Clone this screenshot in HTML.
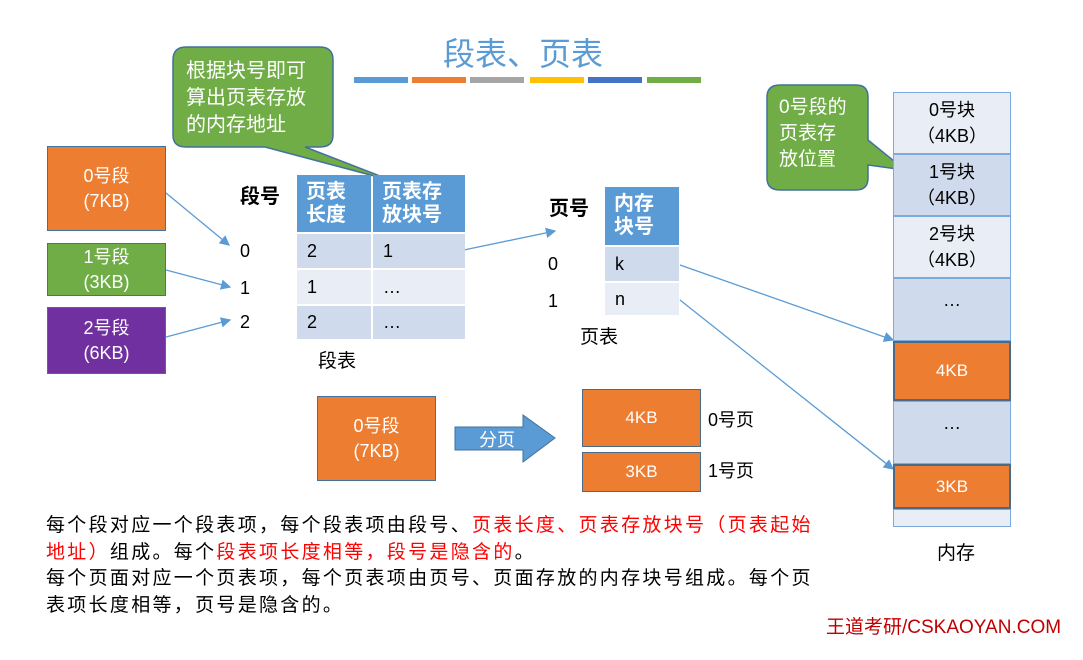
<!DOCTYPE html>
<html><head><meta charset="utf-8"><style>
body{margin:0;width:1083px;height:660px;background:#fff;position:relative;overflow:hidden;font-family:"Liberation Sans","Noto Sans CJK SC",sans-serif;}
.a{position:absolute;box-sizing:border-box;display:flex;align-items:center;justify-content:center;text-align:center;}
.t{position:absolute;white-space:nowrap;}
.h{background:#5b9bd5;color:#fff;font-weight:bold;font-size:20px;line-height:23px;justify-content:flex-start;padding-left:9px;text-align:left}
.c1{background:#cfdaec;font-size:18px;justify-content:flex-start;padding-left:10px}
.c2{background:#e9edf5;font-size:18px;justify-content:flex-start;padding-left:10px}
.m{border:1px solid #7eaadb;font-size:18px;line-height:26px}
.o{background:#ed7d31;color:#fff;border:2px solid #4a6a8a;font-size:17px}
</style></head><body>
<div class="t" style="left:443px;top:29px;font-size:32px;color:#5b9bd5;">段表、页表</div>
<div style="position:absolute;top:77px;left:354px;width:54px;height:6px;background:#5b9bd5"></div>
<div style="position:absolute;top:77px;left:412px;width:54px;height:6px;background:#ed7d31"></div>
<div style="position:absolute;top:77px;left:470px;width:54px;height:6px;background:#a5a5a5"></div>
<div style="position:absolute;top:77px;left:530px;width:54px;height:6px;background:#ffc000"></div>
<div style="position:absolute;top:77px;left:588px;width:54px;height:6px;background:#4472c4"></div>
<div style="position:absolute;top:77px;left:647px;width:54px;height:6px;background:#70ad47"></div>

<svg width="1083" height="660" style="position:absolute;left:0;top:0">
<defs><marker id="ar" markerWidth="8" markerHeight="8" refX="7" refY="4" orient="auto"><path d="M0,0 L8,4 L0,8 z" fill="#5b9bd5"/></marker></defs>
<path d="M186,47 H320 Q333,47 333,60 V135 Q333,147 320,147 H305 L393,181 L265,147 H186 Q173,147 173,135 V60 Q173,47 186,47Z" fill="#70ad47" stroke="#41719c" stroke-width="1.5"/>
<path d="M780,85 H856 Q868,85 868,97 V140 L905,170 L868,165 V178 Q868,190 856,190 H780 Q767,190 767,178 V97 Q767,85 780,85Z" fill="#70ad47" stroke="#41719c" stroke-width="1.5"/>
<g stroke="#5b9bd5" stroke-width="1.3" fill="none" marker-end="url(#ar)">
<line x1="166" y1="193" x2="229" y2="245"/>
<line x1="166" y1="270" x2="230" y2="287"/>
<line x1="166" y1="337" x2="230" y2="320"/>
<line x1="459" y1="251" x2="555" y2="231"/>
<line x1="680" y1="265" x2="893" y2="340"/>
<line x1="680" y1="300" x2="893" y2="469"/>
</g>
<path d="M455,427 H523 V415 L555,438 L523,462 V450 H455Z" fill="#5b9bd5" stroke="#41719c"/>
</svg>
<div class="t" style="left:186px;top:58px;font-size:20px;line-height:27px;color:#fff;">根据块号即可<br>算出页表存放<br>的内存地址</div>
<div class="t" style="left:779px;top:95px;font-size:19px;line-height:26px;color:#fff;">0号段的<br>页表存<br>放位置</div>
<div class="t" style="left:479px;top:426px;font-size:18px;color:#fff;">分页</div>

<div class="a" style="left:47px;top:146px;width:119px;height:85px;background:#ed7d31;color:#fff;font-size:18px;line-height:25px;border:1px solid #41719c">0号段<br>(7KB)</div>
<div class="a" style="left:47px;top:243px;width:119px;height:53px;background:#70ad47;color:#fff;font-size:18px;line-height:25px;border:1px solid #41719c">1号段<br>(3KB)</div>
<div class="a" style="left:47px;top:307px;width:119px;height:67px;background:#7030a0;color:#fff;font-size:18px;line-height:25px;border:1px solid #41719c">2号段<br>(6KB)</div>

<div class="t" style="left:240px;top:180px;font-size:20px;font-weight:bold">段号</div>
<div class="t" style="left:240px;top:241px;font-size:18px">0</div>
<div class="t" style="left:240px;top:278px;font-size:18px">1</div>
<div class="t" style="left:240px;top:312px;font-size:18px">2</div>
<div class="a h" style="left:297px;top:175px;width:74px;height:57px">页表<br>长度</div>
<div class="a h" style="left:373px;top:175px;width:92px;height:57px">页表存<br>放块号</div>
<div class="a c1" style="left:297px;top:234px;width:74px;height:34px">2</div>
<div class="a c1" style="left:373px;top:234px;width:92px;height:34px">1</div>
<div class="a c2" style="left:297px;top:270px;width:74px;height:34px">1</div>
<div class="a c2" style="left:373px;top:270px;width:92px;height:34px">…</div>
<div class="a c1" style="left:297px;top:306px;width:74px;height:33px">2</div>
<div class="a c1" style="left:373px;top:306px;width:92px;height:33px">…</div>
<div class="t" style="left:318px;top:346px;font-size:19px">段表</div>

<div class="t" style="left:549px;top:192px;font-size:20px;font-weight:bold">页号</div>
<div class="t" style="left:548px;top:254px;font-size:18px">0</div>
<div class="t" style="left:548px;top:291px;font-size:18px">1</div>
<div class="a h" style="left:605px;top:187px;width:74px;height:58px">内存<br>块号</div>
<div class="a c1" style="left:605px;top:247px;width:74px;height:34px">k</div>
<div class="a c2" style="left:605px;top:283px;width:74px;height:32px">n</div>
<div class="t" style="left:580px;top:322px;font-size:19px">页表</div>

<div class="a" style="left:317px;top:396px;width:119px;height:85px;background:#ed7d31;color:#fff;font-size:18px;line-height:25px;border:1px solid #41719c">0号段<br>(7KB)</div>
<div class="a o" style="left:582px;top:389px;width:119px;height:58px;border-width:1px">4KB</div>
<div class="a o" style="left:582px;top:452px;width:119px;height:40px;border-width:1px">3KB</div>
<div class="t" style="left:708px;top:406px;font-size:18px">0号页</div>
<div class="t" style="left:708px;top:457px;font-size:18px">1号页</div>

<div class="a m" style="left:893px;top:92px;width:118px;height:62px;background:#e9edf5">0号块<br>（4KB）</div>
<div class="a m" style="left:893px;top:154px;width:118px;height:62px;background:#cfdaec">1号块<br>（4KB）</div>
<div class="a m" style="left:893px;top:216px;width:118px;height:62px;background:#e9edf5">2号块<br>（4KB）</div>
<div class="a m" style="left:893px;top:278px;width:118px;height:63px;background:#cfdaec;align-items:flex-start;padding-top:8px">…</div>
<div class="a o" style="left:893px;top:341px;width:118px;height:60px">4KB</div>
<div class="a m" style="left:893px;top:401px;width:118px;height:63px;background:#cfdaec;align-items:flex-start;padding-top:8px">…</div>
<div class="a o" style="left:893px;top:464px;width:118px;height:45px">3KB</div>
<div class="a m" style="left:893px;top:509px;width:118px;height:18px;background:#e9edf5"></div>
<div class="t" style="left:937px;top:538px;font-size:19px">内存</div>

<div class="t" style="left:46px;top:513px;font-size:19px;letter-spacing:2.3px;line-height:26.5px">每个段对应一个段表项，每个段表项由段号、<span style="color:#f00">页表长度、页表存放块号（页表起始</span><br><span style="color:#f00">地址）</span>组成。每个<span style="color:#f00">段表项长度相等，段号是隐含的</span>。<br>每个页面对应一个页表项，每个页表项由页号、页面存放的内存块号组成。每个页<br>表项长度相等，页号是隐含的。</div>
<div class="t" style="left:826px;top:612px;font-size:19px;color:#c00000">王道考研/CSKAOYAN.COM</div>
</body></html>
